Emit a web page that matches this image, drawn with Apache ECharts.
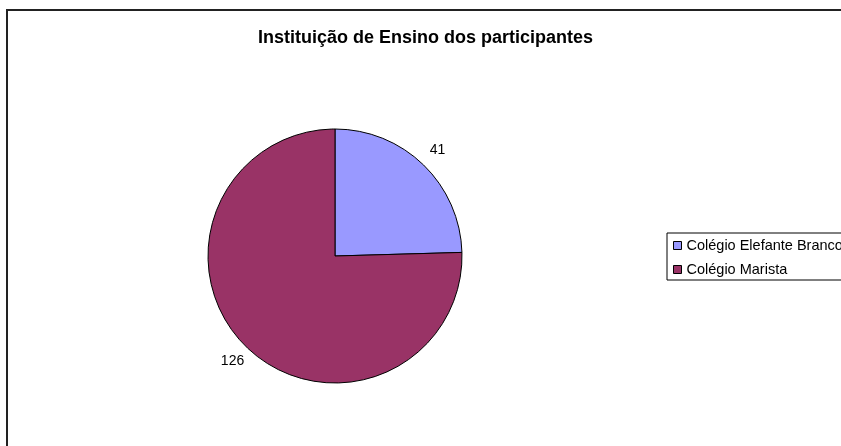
<!DOCTYPE html>
<html>
<head>
<meta charset="utf-8">
<script src="https://cdn.jsdelivr.net/npm/echarts@6/dist/echarts.min.js"></script>
<style>
  html, body { margin: 0; padding: 0; background: #fff; overflow: hidden; }
  #chart { width: 841px; height: 446px; }
</style>
</head>
<body>
<div id="chart"></div>
<script>
// Participants by school
const titleText = 'Instituição de Ensino dos participantes';
const schools = ['Colégio Elefante Branco', 'Colégio Marista'];
const participants = [41, 126];
const sliceColors = ['#9999FF', '#993366'];

const chart = echarts.init(document.getElementById('chart'), null, { renderer: 'canvas' });

const pieData = schools.map((name, i) => ({
  name: name,
  value: participants[i],
  itemStyle: { color: sliceColors[i] }
}));

chart.setOption({
  backgroundColor: '#ffffff',
  animation: false,
  textStyle: { fontFamily: 'Liberation Sans, Arial, sans-serif' },
  graphic: [{
    type: 'rect',
    silent: true,
    z: -1,
    shape: { x: 7, y: 10, width: 1200, height: 1000 },
    style: { fill: 'none', stroke: '#222', lineWidth: 2 }
  }],
  title: {
    text: titleText,
    left: 258,
    top: 29,
    padding: 0,
    textStyle: {
      fontFamily: 'Liberation Sans, Arial, sans-serif',
      fontSize: 18,
      fontWeight: 'bold',
      color: '#000'
    }
  },
  legend: {
    orient: 'vertical',
    left: 667,
    top: 233,
    padding: [5, 80, 3, 6],
    itemGap: 9,
    itemWidth: 8,
    itemHeight: 8,
    icon: 'rect',
    borderColor: '#000',
    borderWidth: 1,
    backgroundColor: '#fff',
    data: schools,
    itemStyle: { borderColor: '#000', borderWidth: 1 },
    textStyle: {
      fontFamily: 'Liberation Sans, Arial, sans-serif',
      fontSize: 14.5,
      color: '#000'
    }
  },
  series: [{
    type: 'pie',
    center: [335, 256],
    radius: 127,
    startAngle: 90,
    clockwise: true,
    avoidLabelOverlap: false,
    data: pieData,
    itemStyle: { borderColor: '#000', borderWidth: 1 },
    emphasis: { disabled: true },
    label: {
      show: true,
      position: 'outside',
      formatter: '{c}',
      fontFamily: 'Liberation Sans, Arial, sans-serif',
      fontSize: 14,
      color: '#000',
      distanceToLabelLine: 0
    },
    labelLine: { show: false, length: 20, length2: 0 },
    labelLayout: { align: 'center', verticalAlign: 'middle' }
  }]
});
</script>
</body>
</html>
